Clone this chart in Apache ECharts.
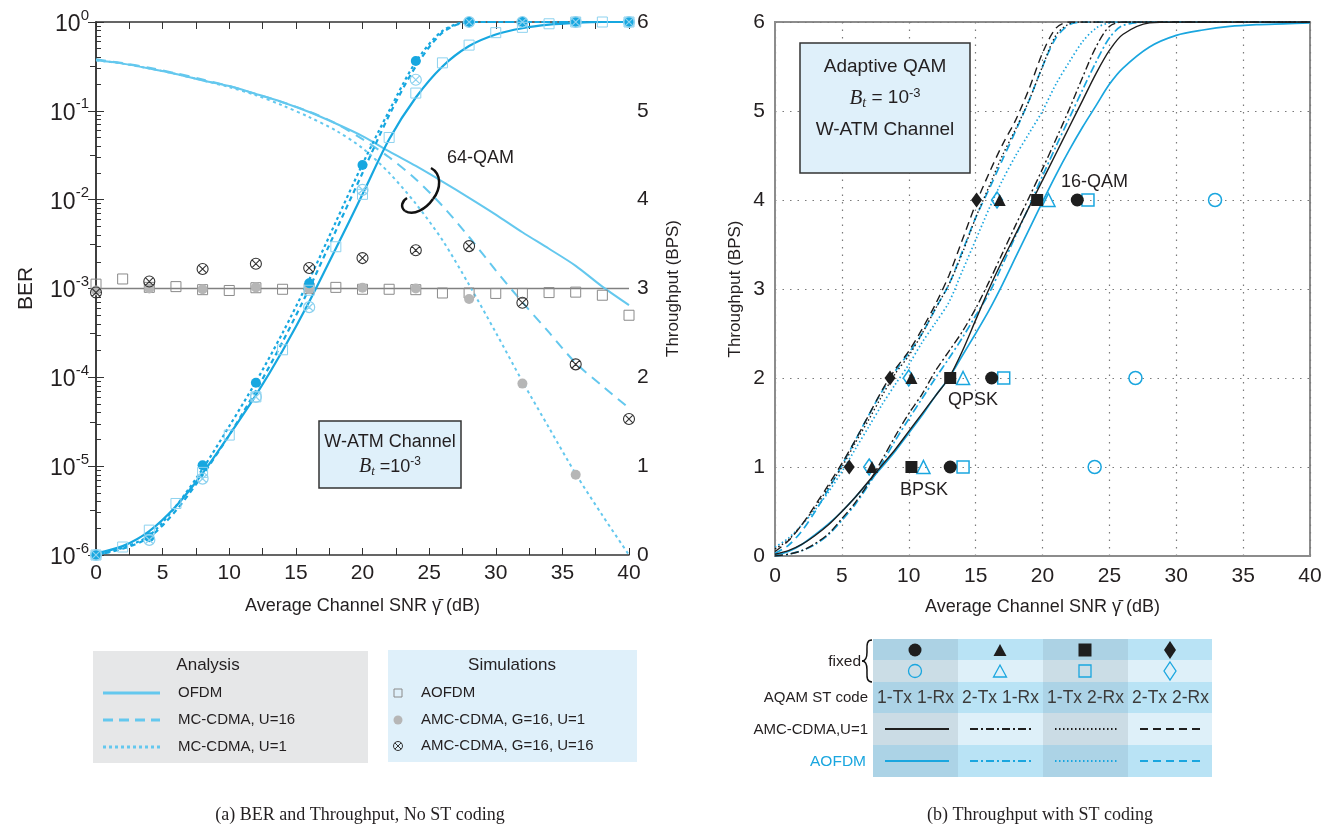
<!DOCTYPE html>
<html><head><meta charset="utf-8">
<script src="https://cdn.jsdelivr.net/npm/echarts@6/dist/echarts.min.js"></script>
<style>html,body{margin:0;padding:0;background:#fff}#c{width:1325px;height:827px}</style>
</head><body><div id="c"></div>
<script>
// ---------------- DATA (left panel) ----------------
const snr2 = [0,2,4,6,8,10,12,14,16,18,20,22,24,26,28,30,32,34,36,38,40];
const snr4 = [0,4,8,12,16,20,24,28,32,36,40];
const targetBER = 0.001;
const berOFDM = [0.37,0.34,0.30,0.26,0.22,0.19,0.155,0.125,0.097,0.072,0.052,0.035,0.024,0.016,0.0105,0.0068,0.0043,0.0028,0.0018,0.00105,0.00065];
const berMC16 = [0.38,0.345,0.305,0.265,0.225,0.19,0.155,0.125,0.098,0.072,0.048,0.03,0.017,0.0085,0.0038,0.0016,0.0007,0.00032,0.000145,0.00008,0.000045];
const berMC1  = [0.37,0.34,0.30,0.26,0.22,0.185,0.15,0.115,0.085,0.06,0.038,0.02,0.009,0.0035,0.0011,0.00032,0.00009,0.000027,0.0000082,0.0000028,0.000001];
const thrOFDM = [0.02,0.1,0.27,0.55,0.92,1.35,1.8,2.3,2.85,3.45,4.06,4.68,5.15,5.5,5.73,5.86,5.93,5.97,5.99,6,6];
const thrMC16 = [0,0.07,0.2,0.5,0.9,1.35,1.85,2.4,3.0,3.65,4.3,4.95,5.5,5.88,6,6,6,6,6,6,6];
const thrMC1  = [0,0.08,0.22,0.55,0.97,1.45,1.95,2.5,3.1,3.75,4.4,5.0,5.55,5.9,6,6,6,6,6,6,6];
const simBerAOFDM = [0.00112,0.00128,0.00103,0.00105,0.00097,0.00095,0.00102,0.00098,0.001,0.00103,0.00098,0.00098,0.00097,0.00089,0.00089,0.00088,0.00088,0.0009,0.00091,0.00084,0.0005];
const simThrAOFDM = [0,0.09,0.28,0.58,0.93,1.35,1.78,2.31,2.98,3.47,4.06,4.7,5.2,5.54,5.74,5.88,5.94,5.98,6,6,6];
const simBerAMC1  = [0.00095,0.001,0.00098,0.00103,0.00098,0.00102,0.001,0.00076,0.000085,0.000008,null];
const simThrAMC1  = [0,0.2,1.01,1.94,3.06,4.39,5.56,6,6,6,6];
const simBerAMC16 = [0.0009,0.0012,0.00166,0.0019,0.0017,0.0022,0.0027,0.003,0.00069,0.00014,0.000034];
const simThrAMC16 = [0,0.17,0.86,1.78,2.79,4.11,5.35,6,6,6,6];

// ---------------- DATA (right panel) ----------------
const snrST = [0,1,2,3,4,5,6,7,8,9,10,11,12,13,14,15,16,17,18,19,20,21,22,23,24,25,26,28,30,32,34,36,38,40];
const amc1x1 = [0.02,0.06,0.13,0.23,0.35,0.5,0.66,0.84,1.02,1.2,1.4,1.6,1.8,2.0,2.3,2.65,3.0,3.32,3.62,3.92,4.22,4.52,4.82,5.12,5.42,5.68,5.86,5.99,6,6,6,6,6,6];
const amc2x1 = [0,0.02,0.06,0.14,0.25,0.42,0.6,0.82,1.08,1.35,1.6,1.82,2.08,2.3,2.52,2.78,3.08,3.4,3.72,4.03,4.35,4.68,5.02,5.38,5.72,5.95,6,6,6,6,6,6,6,6];
const amc1x2 = [0.08,0.18,0.35,0.55,0.77,1.0,1.27,1.53,1.8,2.05,2.25,2.5,2.78,3.05,3.4,3.8,4.15,4.5,4.8,5.12,5.5,5.85,5.98,6,6,6,6,6,6,6,6,6,6,6];
const amc2x2 = [0.05,0.17,0.35,0.57,0.8,1.04,1.3,1.58,1.86,2.1,2.3,2.55,2.83,3.15,3.55,3.95,4.3,4.62,4.9,5.25,5.65,5.93,6,6,6,6,6,6,6,6,6,6,6,6];
const ofdm1x1 = [0.01,0.05,0.13,0.24,0.36,0.5,0.66,0.83,1.0,1.18,1.38,1.58,1.8,2.0,2.25,2.5,2.76,3.05,3.36,3.67,3.98,4.28,4.56,4.82,5.06,5.3,5.48,5.72,5.85,5.91,5.95,5.97,5.98,5.99];
const ofdm2x1 = [0,0.02,0.06,0.13,0.24,0.4,0.58,0.8,1.04,1.3,1.54,1.77,2.0,2.22,2.45,2.7,2.95,3.27,3.6,3.93,4.27,4.6,4.92,5.24,5.55,5.82,5.96,6,6,6,6,6,6,6];
const ofdm1x2 = [0.1,0.2,0.35,0.52,0.72,0.95,1.2,1.45,1.7,1.93,2.15,2.4,2.62,2.85,3.2,3.55,3.9,4.22,4.5,4.75,5.0,5.3,5.55,5.78,5.93,5.99,6,6,6,6,6,6,6,6];
const ofdm2x2 = [0.03,0.12,0.28,0.5,0.75,1.02,1.3,1.58,1.85,2.08,2.28,2.5,2.78,3.05,3.42,3.8,4.12,4.45,4.78,5.12,5.5,5.82,5.97,6,6,6,6,6,6,6,6,6,6,6];
// fixed-rate points: throughput levels (BPSK, QPSK, 16-QAM) and required SNR
const fixedRates = [1,2,4];
const fxAMC1x1 = [13.1,16.2,22.6];
const fxAMC2x1 = [7.25,10.2,16.8];
const fxAMC1x2 = [10.2,13.1,19.6];
const fxAMC2x2 = [5.55,8.6,15.07];
const fxOFDM1x1 = [23.9,26.95,32.9];
const fxOFDM2x1 = [11.1,14.06,20.45];
const fxOFDM1x2 = [14.06,17.1,23.4];
const fxOFDM2x2 = [7.04,10.0,16.6];

// ---------------- STYLE ----------------
const FF = '"Liberation Sans", Arial, sans-serif';
const TXT = '#231f20';
const berC = '#64c8ee', thrC = '#16a7e0', lightM = '#8dd2ef';
const blk = '#1e1e1e', blu = '#1aa6df';
const DASHDOT = [8,3,2,3], DOT = [1.5,2.5], DASH = [8,5];
const OTIMES = 'path://M0,10 A10,10 0 1,1 20,10 A10,10 0 1,1 0,10 Z M2.93,2.93 L17.07,17.07 M17.07,2.93 L2.93,17.07';

const zip = (xs, ys) => xs.map((x,i)=>[x, ys[i]]).filter(p=>p[1]!=null);

function lineS(name, xi, yi, xs, ys, color, type, w, z){
  return {name, type:'line', xAxisIndex:xi, yAxisIndex:yi, data:zip(xs,ys), smooth:0.3, symbol:'none',
    lineStyle:{color, type, width:w}, z:z||2, silent:true, animation:false};
}
function scat(name, xi, yi, xs, ys, symbol, size, fill, stroke, bw, z){
  return {name, type:'scatter', xAxisIndex:xi, yAxisIndex:yi, data:zip(xs,ys), symbol, symbolSize:size,
    itemStyle:{color:fill, borderColor:stroke, borderWidth:bw, opacity:1}, z:z||5, silent:true, animation:false};
}

const supLabel = v => { const e = Math.round(Math.log10(v)); return '{b|10}{s|' + e + '}'; };

const series = [
  {type:'line', xAxisIndex:0, yAxisIndex:0, data:[[0,targetBER],[40,targetBER]], symbol:'none', lineStyle:{color:'#808080', width:1.5}, z:1, silent:true, animation:false},
  lineS('OFDM BER',0,0,snr2,berOFDM,berC,'solid',2),
  lineS('MC16 BER',0,0,snr2,berMC16,berC,[10,7],2),
  lineS('MC1 BER',0,0,snr2,berMC1,berC,[3,3.5],2),
  lineS('OFDM thr',0,1,snr2,thrOFDM,thrC,'solid',2.2,3),
  lineS('MC16 thr',0,1,snr2,thrMC16,thrC,[5,4],2.2,3),
  lineS('MC1 thr',0,1,snr2,thrMC1,thrC,[3,3],2.2,3),
  scat('AOFDM ber',0,0,snr2,simBerAOFDM,'rect',10,'rgba(0,0,0,0)','#8a8a8a',1),
  scat('AMC1 ber',0,0,snr4,simBerAMC1,'circle',10,'#b6b6b6','#b6b6b6',0),
  scat('AMC16 ber',0,0,snr4,simBerAMC16,OTIMES,11,'rgba(0,0,0,0)','#333',1.1),
  scat('AMC1 thr',0,1,snr4,simThrAMC1,'circle',10,thrC,thrC,0,5),
  scat('AOFDM thr',0,1,snr2,simThrAOFDM,'rect',10,'rgba(0,0,0,0)',lightM,1,6),
  scat('AMC16 thr',0,1,snr4,simThrAMC16,OTIMES,11,'rgba(0,0,0,0)',lightM,1.2,7),
  // right panel
  lineS('o1x1',2,3,snrST,ofdm1x1,blu,'solid',1.7),
  lineS('o2x1',2,3,snrST,ofdm2x1,blu,DASHDOT,1.7),
  lineS('o1x2',2,3,snrST,ofdm1x2,blu,DOT,1.7),
  lineS('o2x2',2,3,snrST,ofdm2x2,blu,DASH,1.7),
  lineS('a1x1',2,3,snrST,amc1x1,blk,'solid',1.4),
  lineS('a2x1',2,3,snrST,amc2x1,blk,DASHDOT,1.4),
  lineS('a1x2',2,3,snrST,amc1x2,blk,DOT,1.4),
  lineS('a2x2',2,3,snrST,amc2x2,blk,DASH,1.4),
  scat('f o1x1',2,3,fxOFDM1x1,fixedRates,'circle',13,'rgba(0,0,0,0)',blu,1.5),
  scat('f o2x1',2,3,fxOFDM2x1,fixedRates,'triangle',13,'rgba(0,0,0,0)',blu,1.5),
  scat('f o1x2',2,3,fxOFDM1x2,fixedRates,'rect',12,'rgba(0,0,0,0)',blu,1.5),
  scat('f o2x2',2,3,fxOFDM2x2,fixedRates,'diamond',[11,16],'rgba(0,0,0,0)',blu,1.5),
  scat('f a1x1',2,3,fxAMC1x1,fixedRates,'circle',13,blk,blk,0),
  scat('f a2x1',2,3,fxAMC2x1,fixedRates,'triangle',12,blk,blk,0),
  scat('f a1x2',2,3,fxAMC1x2,fixedRates,'rect',12,blk,blk,0),
  scat('f a2x2',2,3,fxAMC2x2,fixedRates,'diamond',[11,15],blk,blk,0)
];

const axisTxt = {fontFamily:FF, fontSize:21, color:TXT};
const nameTxt = {fontFamily:FF, fontSize:18, color:TXT};

// ---------------- GRAPHICS (annotations, legends, table) ----------------
const G = [];
function T(x,y,text,size,opt){ opt=opt||{}; const st = {text, font:(opt.font||size+'px '+FF), fill:opt.fill||TXT, align:opt.align||'left', verticalAlign:'middle'};
  if(opt.rich) st.rich = opt.rich; G.push({type:'text', x, y, z:120, silent:true, style:st}); }
function L(x1,y1,x2,y2,stroke,w,dash){ const st={stroke, lineWidth:w}; if(dash) st.lineDash=dash; G.push({type:'line', z:110, silent:true, shape:{x1,y1,x2,y2}, style:st}); }
function BZ(p,stroke,w){ G.push({type:'bezierCurve', z:110, silent:true, shape:{x1:p[0],y1:p[1],cpx1:p[2],cpy1:p[3],cpx2:p[4],cpy2:p[5],x2:p[6],y2:p[7]}, style:{fill:'none', stroke, lineWidth:w}}); }
const richBt = (s)=>({i:{fontFamily:'"Liberation Serif", serif', fontStyle:'italic', fontSize:s+2, color:TXT},
  sb:{fontFamily:'"Liberation Serif", serif', fontStyle:'italic', fontSize:s-5, color:TXT, padding:[10,0,0,0]},
  n:{fontFamily:FF, fontSize:s, color:TXT},
  sp:{fontFamily:FF, fontSize:s-6, color:TXT, padding:[0,0,10,0]}});
// left annotation box
G.push({type:'rect', z:110, silent:true, shape:{x:319,y:421,width:142,height:67}, style:{fill:'#dff0fa', stroke:'#333', lineWidth:1.5}});
T(390,442,'W-ATM Channel',18,{align:'center'});
T(390,467,'{i|B}{sb|t}{n| =10}{sp|-3}',18,{align:'center', rich:richBt(18)});
T(447,158,'64-QAM',18);
BZ([431,168,442,174,441,189,433,199],'#111',2.5);
BZ([433,199,426,209,414,216,405,211],'#111',2.5);
BZ([405,211,400,207,402,201,407,198],'#111',2.5);
// right annotation box
G.push({type:'rect', z:110, silent:true, shape:{x:800,y:43,width:170,height:130}, style:{fill:'#dff0fa', stroke:'#333', lineWidth:1.5}});
T(885,67,'Adaptive QAM',19,{align:'center'});
T(885,98,'{i|B}{sb|t}{n| = 10}{sp|-3}',19,{align:'center', rich:richBt(19)});
T(885,130,'W-ATM Channel',19,{align:'center'});
T(1061,182,'16-QAM',18);
T(948,400,'QPSK',18);
T(900,490,'BPSK',18);
// captions
T(360,815,'(a) BER and Throughput, No ST coding',18,{align:'center', font:'18px "Liberation Serif", serif'});
T(1040,815,'(b) Throughput with ST coding',18,{align:'center', font:'18px "Liberation Serif", serif'});
// Analysis legend
G.push({type:'rect', z:100, silent:true, shape:{x:93,y:651,width:275,height:112}, style:{fill:'#e6e7e8'}});
T(208,665,'Analysis',17,{align:'center'});
L(103,693,160,693,berC,3,null); T(178,693,'OFDM',15);
L(103,720,160,720,berC,3,[10,6]); T(178,720,'MC-CDMA, U=16',15);
L(103,747,160,747,berC,3,[3,3]); T(178,747,'MC-CDMA, U=1',15);
// Simulations legend
G.push({type:'rect', z:100, silent:true, shape:{x:388,y:650,width:249,height:112}, style:{fill:'#dff0fa'}});
T(512,665,'Simulations',17,{align:'center'});
G.push({type:'rect', z:110, silent:true, shape:{x:394,y:689,width:8,height:8}, style:{fill:'none', stroke:'#8a8a8a', lineWidth:1}});
G.push({type:'circle', z:110, silent:true, shape:{cx:398,cy:720,r:4.5}, style:{fill:'#b6b6b6'}});
G.push({type:'circle', z:110, silent:true, shape:{cx:398,cy:746,r:4.5}, style:{fill:'none', stroke:'#333', lineWidth:1}});
L(394.8,742.8,401.2,749.2,'#333',1); L(401.2,742.8,394.8,749.2,'#333',1);
T(421,693,'AOFDM',15);
T(421,720,'AMC-CDMA, G=16, U=1',15);
T(421,746,'AMC-CDMA, G=16, U=16',15);
// ST table
const colX = [873,958,1043,1128,1212];
const rowY = [639,660,682,713,745,777];
const oddCol = ['#acd2e4','#cbdde6','#acd3e6','#cbdce5','#acd3e6'];
const evenCol = ['#b9e3f5','#def0f9','#b9e3f5','#def0f9','#b9e3f5'];
for(let c=0;c<4;c++) for(let r=0;r<5;r++){
  G.push({type:'rect', z:100, silent:true, shape:{x:colX[c],y:rowY[r],width:colX[c+1]-colX[c],height:rowY[r+1]-rowY[r]}, style:{fill:(c%2===0?oddCol:evenCol)[r]}});
}
const cx = [915,1000,1085,1170];
G.push({type:'circle', z:110, silent:true, shape:{cx:cx[0],cy:650,r:6.5}, style:{fill:blk}});
G.push({type:'polygon', z:110, silent:true, shape:{points:[[cx[1]-6.5,656],[cx[1]+6.5,656],[cx[1],644]]}, style:{fill:blk}});
G.push({type:'rect', z:110, silent:true, shape:{x:cx[2]-6.5,y:643.5,width:13,height:13}, style:{fill:blk}});
G.push({type:'polygon', z:110, silent:true, shape:{points:[[cx[3],641],[cx[3]+6,650],[cx[3],659],[cx[3]-6,650]]}, style:{fill:blk}});
G.push({type:'circle', z:110, silent:true, shape:{cx:cx[0],cy:671,r:6.5}, style:{fill:'none', stroke:blu, lineWidth:1.3}});
G.push({type:'polygon', z:110, silent:true, shape:{points:[[cx[1]-6.5,677],[cx[1]+6.5,677],[cx[1],665]]}, style:{fill:'none', stroke:blu, lineWidth:1.3}});
G.push({type:'rect', z:110, silent:true, shape:{x:cx[2]-6,y:665,width:12,height:12}, style:{fill:'none', stroke:blu, lineWidth:1.3}});
G.push({type:'polygon', z:110, silent:true, shape:{points:[[cx[3],662],[cx[3]+6,671],[cx[3],680],[cx[3]-6,671]]}, style:{fill:'none', stroke:blu, lineWidth:1.3}});
['1-Tx 1-Rx','2-Tx 1-Rx','1-Tx 2-Rx','2-Tx 2-Rx'].forEach((t,i)=>T(cx[i]+0.5,698,t,17.5,{align:'center', fill:'#3c3c3c'}));
const lstyles = [null, DASHDOT, DOT, DASH];
for(let i=0;i<4;i++){
  L(colX[i]+12,729,colX[i]+76,729,blk,2.2,lstyles[i]);
  L(colX[i]+12,761,colX[i]+76,761,blu,2.2,lstyles[i]);
}
T(861,662,'fixed',15.5,{align:'right'});
BZ([872,640,866,640,867,646,867,652],'#111',1.5);
BZ([867,652,867,658,866,661,862,661],'#111',1.5);
BZ([862,661,866,661,867,664,867,670],'#111',1.5);
BZ([867,670,867,676,866,682,872,682],'#111',1.5);
T(868,698,'AQAM ST code',15,{align:'right'});
T(868,730,'AMC-CDMA,U=1',15,{align:'right'});
T(866,762,'AOFDM',15.5,{align:'right', fill:blu});

const option = {
  backgroundColor:'#fff',
  animation:false,
  grid:[
    {left:96, top:22, width:533, height:533, show:false},
    {left:775, top:22, width:535, height:534, show:true, borderColor:'#8c8c8c', borderWidth:2, backgroundColor:'transparent'}
  ],
  xAxis:[
    {type:'value', gridIndex:0, min:0, max:40, interval:5, position:'bottom',
     name:'Average Channel SNR \u03b3\u0304 (dB)', nameLocation:'middle', nameGap:42, nameTextStyle:nameTxt,
     axisLine:{lineStyle:{color:'#333', width:1.5}}, axisTick:{inside:true, length:7, lineStyle:{color:'#333'}},
     minorTick:{show:true, splitNumber:2, length:7, lineStyle:{color:'#333'}},
     axisLabel:Object.assign({margin:8}, axisTxt), splitLine:{show:false}},
    {type:'value', gridIndex:0, min:0, max:40, interval:5, position:'top',
     axisLine:{lineStyle:{color:'#333', width:1.5}}, axisTick:{inside:true, length:7, lineStyle:{color:'#333'}},
     minorTick:{show:true, splitNumber:2, length:7, lineStyle:{color:'#333'}},
     axisLabel:{show:false}, splitLine:{show:false}},
    {type:'value', gridIndex:1, min:0, max:40, interval:5,
     name:'Average Channel SNR \u03b3\u0304 (dB)', nameLocation:'middle', nameGap:42, nameTextStyle:nameTxt,
     axisLine:{lineStyle:{color:'#8c8c8c', width:2}}, axisTick:{show:false},
     axisLabel:Object.assign({margin:10}, axisTxt),
     splitLine:{show:true, lineStyle:{color:'#7a7a7a', type:[1.5,6], width:1.2}}}
  ],
  yAxis:[
    {type:'log', gridIndex:0, min:1e-6, max:1, logBase:10, position:'left',
     name:'BER', nameLocation:'middle', nameGap:59, nameRotate:90, nameTextStyle:{fontFamily:FF, fontSize:21, color:TXT},
     axisLine:{show:true, lineStyle:{color:'#333', width:1.5}}, axisTick:{inside:true, length:8, lineStyle:{color:'#333'}},
     minorTick:{show:true, splitNumber:9, length:5, lineStyle:{color:'#333'}},
     axisLabel:{formatter:supLabel, margin:7, rich:{b:{fontFamily:FF, fontSize:23, color:TXT, verticalAlign:'bottom'}, s:{fontFamily:FF, fontSize:15, color:TXT, verticalAlign:'top', padding:[0,0,13,0]}}},
     splitLine:{show:false}},
    {type:'value', gridIndex:0, min:0, max:6, interval:1, position:'right',
     name:'Throughput (BPS)', nameLocation:'middle', nameGap:36, nameRotate:90, nameTextStyle:{fontFamily:FF, fontSize:17, color:TXT},
     axisLine:{show:true, lineStyle:{color:'#333', width:1.5}}, axisTick:{inside:true, length:8, lineStyle:{color:'#333'}},
     minorTick:{show:true, splitNumber:2, length:6, lineStyle:{color:'#333'}},
     axisLabel:Object.assign({margin:8}, axisTxt), splitLine:{show:false}},
    {type:'value', gridIndex:1, min:0, max:6, interval:1, show:false},
    {type:'value', gridIndex:1, min:0, max:6, interval:1, position:'left',
     name:'Throughput (BPS)', nameLocation:'middle', nameGap:31, nameRotate:90, nameTextStyle:{fontFamily:FF, fontSize:17, color:TXT},
     axisLine:{show:true, lineStyle:{color:'#8c8c8c', width:2}}, axisTick:{show:false},
     axisLabel:Object.assign({margin:10}, axisTxt),
     splitLine:{show:true, lineStyle:{color:'#7a7a7a', type:[1.5,6], width:1.2}}}
  ],
  series,
  graphic:{elements:G}
};
const chart = echarts.init(document.getElementById('c'), null, {renderer:'canvas'});
chart.setOption(option);
</script></body></html>
